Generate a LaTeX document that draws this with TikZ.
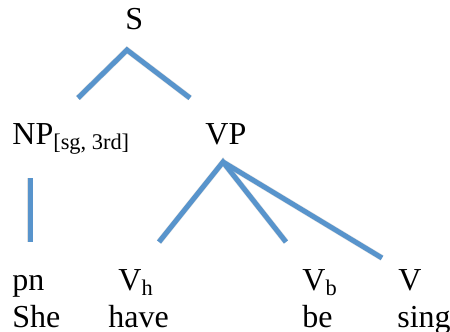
\documentclass[tikz,border=0pt]{standalone}
\usepackage{fontspec}
\setmainfont{Liberation Serif}
\newfontfamily\treefont{Liberation Serif}
\usepackage{tikz}
\usetikzlibrary{positioning}
\definecolor{TreeBlue}{RGB}{88,148,204}

\begin{document}
\begin{tikzpicture}[
  x=0.5pt,y=-0.5pt,
  lbl/.style={anchor=base west,inner sep=0pt,font=\treefont\fontsize{16}{19}\selectfont},
  branch/.style={draw=TreeBlue,line width=2.5pt},
  shade/.style={draw=black,opacity=0.12,line width=3pt,shift={(1,2)}},
]
\useasboundingbox (0,0) rectangle (450,332);
% labels
\node[lbl] (s) at (125,29) {S};
\node[lbl] (np) at (12,144) {NP\textsubscript{[sg, 3rd]}};
\node[lbl] (vp) at (205,144) {VP};
\node[lbl] (pn) at (12,290) {pn};
\node[lbl] (vh) at (118,290) {V\textsubscript{h}};
\node[lbl] (vb) at (302,290) {V\textsubscript{b}};
\node[lbl] (v) at (398,290) {V};
\node[lbl] (she) at (12,327) {She};
\node[lbl] (have) at (108,327) {have};
\node[lbl] (be) at (302,327) {be};
\node[lbl] (sing) at (397,327) {sing};
% branch ends
\coordinate (s-top) at (127,50);
\coordinate (np-up) at (78,98);
\coordinate (vp-up) at (190,98);
\coordinate (np-top) at (30,178);
\coordinate (pn-up) at (30,242);
\coordinate (vp-top) at (223,162);
\coordinate (vh-up) at (159,242);
\coordinate (vb-up) at (286,242);
\coordinate (v-up) at (382,258);
% shadows
\draw[shade] (np-up) -- (s-top) -- (vp-up);
\draw[shade] (np-top) -- (pn-up);
\draw[shade] (vh-up) -- (vp-top) -- (vb-up) (vp-top) -- (v-up);
% branches
\draw[branch] (np-up) -- (s-top) -- (vp-up);
\draw[branch] (np-top) -- (pn-up);
\draw[branch] (vh-up) -- (vp-top) -- (vb-up);
\draw[branch] (vp-top) -- (v-up);
\end{tikzpicture}
\end{document}
